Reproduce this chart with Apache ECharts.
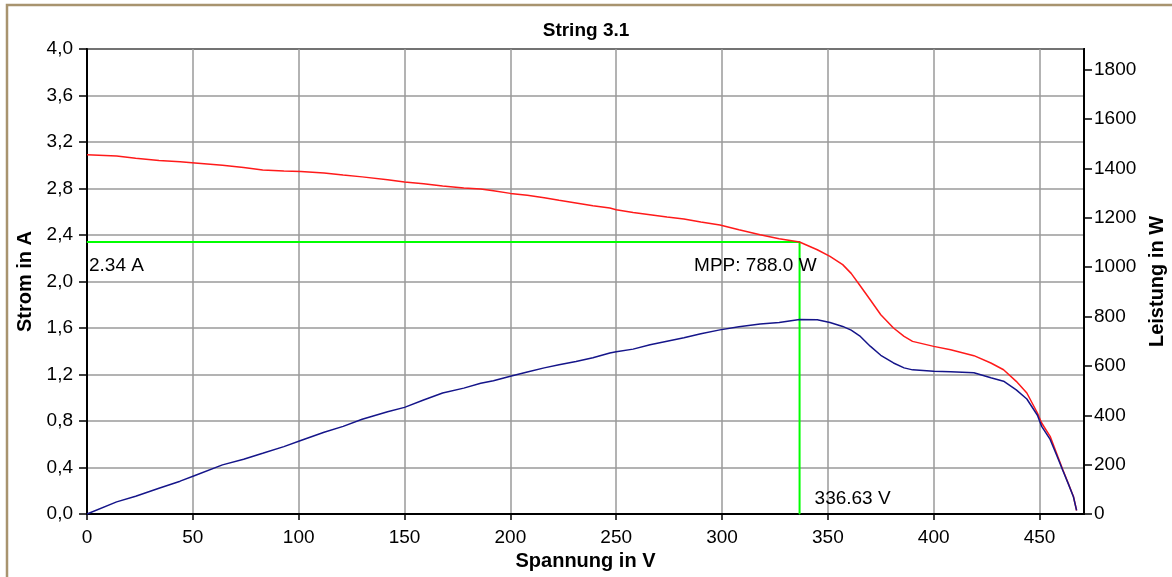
<!DOCTYPE html>
<html>
<head>
<meta charset="utf-8">
<title>String 3.1</title>
<script src="https://cdn.jsdelivr.net/npm/echarts@6/dist/echarts.min.js"></script>
<style>
  html, body { margin: 0; padding: 0; background: #fff; }
  #chart { width: 1172px; height: 577px; }
</style>
</head>
<body>
<div id="chart"></div>
<script>
const voltage = [0, 14, 23, 34, 44, 51, 64, 74, 83, 93, 101, 112, 121, 130, 142, 150, 159, 168, 178, 186, 192, 200,
  208, 216, 223, 231, 239, 247, 250, 258, 266, 274, 282, 290, 299, 308, 318, 327, 336.6, 345, 351, 357, 361, 365,
  370, 375, 381, 386, 390, 400, 408, 419, 427, 433, 439, 444, 449, 451, 455, 458, 461, 463.5, 466, 467.5];
const current = [3.09, 3.08, 3.06, 3.04, 3.03, 3.02, 3.0, 2.98, 2.96, 2.95, 2.947, 2.933, 2.916, 2.9, 2.876, 2.855,
  2.841, 2.822, 2.804, 2.796, 2.781, 2.758, 2.741, 2.721, 2.698, 2.675, 2.652, 2.632, 2.618, 2.594, 2.575, 2.555,
  2.538, 2.512, 2.486, 2.446, 2.403, 2.368, 2.34, 2.273, 2.216, 2.145, 2.07, 1.97, 1.843, 1.714, 1.6, 1.528, 1.485,
  1.442, 1.413, 1.362, 1.299, 1.241, 1.141, 1.041, 0.869, 0.783, 0.668, 0.525, 0.381, 0.267, 0.151, 0.03];
const power = [0, 49, 72, 104, 133, 156, 199, 222, 246, 273, 298, 331, 355, 384, 414, 432, 462, 490, 510, 530, 540,
  558, 575, 592, 605, 618, 633, 652, 657, 668, 686, 700, 714, 730, 746, 759, 770, 776, 788, 787, 776, 760, 745, 722,
  680, 643, 612, 592, 584, 578, 576, 572, 552, 538, 503, 466, 400, 355, 302, 240, 176, 124, 70, 15];

// maximum power point
const mppVoltage = 336.63;
const mppCurrent = 2.34;
const mppPower = 788.0;

// axis ranges
const voltMax = 471;
const currentMax = 4;
const currentStep = 0.4;
const powerMax = 1884;
const powerStep = 200;
const voltStep = 50;

const chart = echarts.init(document.getElementById('chart'));

const font = 'Liberation Sans, Arial, sans-serif';
const labelStyle = { color: '#000', fontFamily: font, fontSize: 19 };
const nameStyle = { color: '#000', fontFamily: font, fontSize: 20, fontWeight: 'bold' };

const option = {
  backgroundColor: '#fff',
  animation: false,
  title: {
    text: 'String 3.1',
    left: 'center',
    top: 16,
    textStyle: { color: '#000', fontFamily: font, fontSize: 19, fontWeight: 'bold' }
  },
  graphic: [
    {
      type: 'rect',
      shape: { x: 7, y: 5, width: 1200, height: 600 },
      style: { fill: null, stroke: '#a8946f', lineWidth: 2.5 },
      silent: true
    }
  ],
  grid: {
    left: 87,
    right: 88,
    top: 49,
    bottom: 63,
    outerBoundsMode: 'none',
    containLabel: false,
    show: true,
    borderColor: '#000',
    borderWidth: 2
  },
  xAxis: {
    type: 'value',
    min: 0,
    max: voltMax,
    interval: voltStep,
    name: 'Spannung in V',
    nameLocation: 'middle',
    nameGap: 34,
    nameTextStyle: nameStyle,
    axisLine: { lineStyle: { color: '#000', width: 2 } },
    axisTick: { length: 6, lineStyle: { color: '#000', width: 1.5 } },
    axisLabel: Object.assign({ margin: 14, showMaxLabel: false }, labelStyle),
    splitLine: { show: true, lineStyle: { color: '#9a9a9a', width: 1.5 } }
  },
  yAxis: [
    {
      type: 'value',
      min: 0,
      max: currentMax,
      interval: currentStep,
      name: 'Strom in A',
      nameLocation: 'middle',
      nameGap: 50,
      nameTextStyle: nameStyle,
      axisLine: { show: true, lineStyle: { color: '#000', width: 2 } },
      axisTick: { show: true, length: 8, lineStyle: { color: '#000', width: 1.5 } },
      axisLabel: Object.assign({
        margin: 14,
        formatter: v => v.toFixed(1).replace('.', ',')
      }, labelStyle),
      splitLine: { show: true, lineStyle: { color: '#9a9a9a', width: 1.5 } }
    },
    {
      type: 'value',
      position: 'right',
      min: 0,
      max: powerMax,
      interval: powerStep,
      name: 'Leistung in W',
      nameLocation: 'middle',
      nameGap: 60,
      nameTextStyle: nameStyle,
      axisLine: { show: true, lineStyle: { color: '#000', width: 2 } },
      axisTick: { show: true, length: 8, lineStyle: { color: '#000', width: 1.5 } },
      axisLabel: Object.assign({
        margin: 10,
        showMaxLabel: false,
        formatter: v => String(Math.round(v))
      }, labelStyle),
      splitLine: { show: false }
    }
  ],
  series: [
    {
      name: 'Strom',
      type: 'line',
      yAxisIndex: 0,
      showSymbol: false,
      lineStyle: { color: '#ff1a1a', width: 1.5 },
      data: voltage.map((v, i) => [v, current[i]]),
      z: 3
    },
    {
      name: 'Leistung',
      type: 'line',
      yAxisIndex: 1,
      showSymbol: false,
      lineStyle: { color: '#15158a', width: 1.5 },
      data: voltage.map((v, i) => [v, power[i]]),
      z: 4
    },
    {
      name: 'MPP',
      type: 'line',
      yAxisIndex: 0,
      symbol: 'circle',
      symbolSize: 1,
      itemStyle: { color: '#00ff00' },
      lineStyle: { color: '#00ff00', width: 2 },
      z: 2,
      data: [
        {
          value: [0, mppCurrent],
          label: {
            show: true, position: 'bottom', distance: 14, align: 'left', offset: [2, 0],
            formatter: mppCurrent.toFixed(2) + ' A'
          }
        },
        {
          value: [mppVoltage, mppCurrent],
          label: {
            show: true, position: 'bottom', distance: 14, align: 'right', offset: [17, 0],
            formatter: 'MPP: ' + mppPower.toFixed(1) + ' W'
          }
        },
        {
          value: [mppVoltage, 0],
          label: {
            show: true, position: 'top', distance: 5, align: 'left', offset: [15, 0],
            formatter: mppVoltage.toFixed(2) + ' V'
          }
        }
      ],
      label: Object.assign({}, labelStyle)
    }
  ]
};

chart.setOption(option);
window.addEventListener('resize', () => chart.resize());
</script>
</body>
</html>
